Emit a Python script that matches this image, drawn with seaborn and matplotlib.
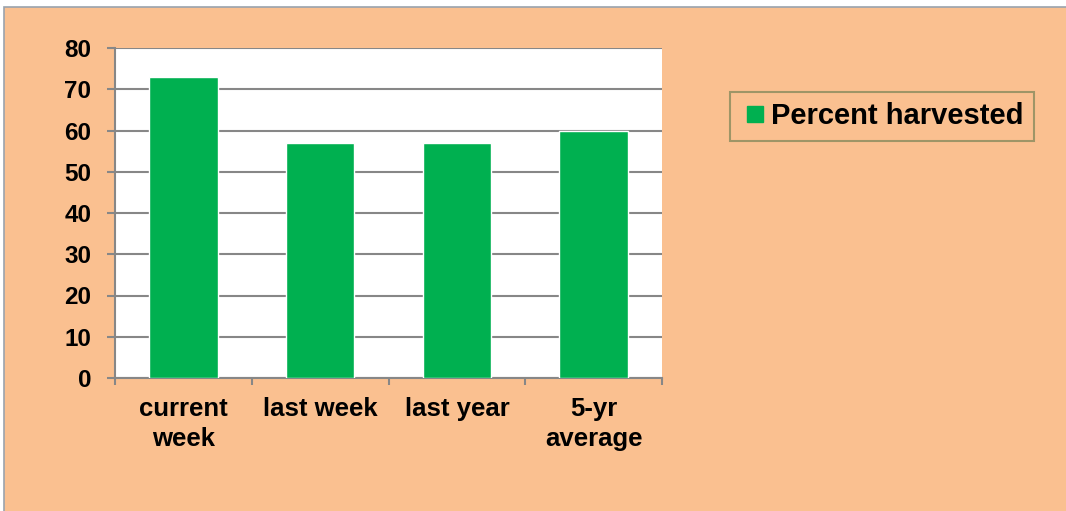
import matplotlib
matplotlib.use("Agg")
import matplotlib.pyplot as plt
import matplotlib.patches as mpatches
from matplotlib.lines import Line2D
import seaborn as sns
import pandas as pd

# data
categories = ["current\nweek", "last week", "last year", "5-yr\naverage"]
percent_harvested = [73, 57, 57, 60]
yticks = [0, 10, 20, 30, 40, 50, 60, 70, 80]
series_name = "Percent harvested"

bg = "#FAC090"
green = "#00B050"
gridcol = "#878787"

sns.set_style("white")
plt.rcParams['font.family'] = ['Liberation Sans', 'DejaVu Sans']
plt.rcParams['font.weight'] = 'bold'
plt.rcParams['text.color'] = 'black'

fig = plt.figure(figsize=(10.66, 5.11), dpi=100, facecolor="white")
W, H = 1066, 511

# orange chart area panel with thin border
panel = mpatches.Rectangle((4 / W, -0.05), 1.2, 1 - 7 / H + 0.05,
                           transform=fig.transFigure, facecolor=bg,
                           edgecolor="#9AA3AD", linewidth=1.2, zorder=-5)
fig.patches.append(panel)

ax = fig.add_axes([115 / W, 1 - 378 / H, 547 / W, 330 / H])
ax.set_zorder(2)
ax.set_facecolor("white")

df = pd.DataFrame({"category": categories, "value": percent_harvested})
sns.barplot(data=df, x="category", y="value", color=green, width=0.5,
            saturation=1, ax=ax, zorder=3)

ax.set_ylim(0, 80)
ax.set_xlim(-0.5, 3.5)
ax.set_yticks(yticks)
ax.yaxis.grid(True, color=gridcol, linewidth=1.5, zorder=0)
ax.set_axisbelow(True)
ax.set_xlabel("")
ax.set_ylabel("")

for side in ["top", "right"]:
    ax.spines[side].set_visible(False)
for side in ["left", "bottom"]:
    ax.spines[side].set_color(gridcol)
    ax.spines[side].set_linewidth(1.5)

ax.tick_params(axis="y", which="major", length=6, width=1.5, color=gridcol,
               pad=11, left=True, labelcolor="black", labelsize=17.5)
ax.tick_params(axis="x", which="major", length=0, pad=14, labelcolor="black",
               labelsize=18.5)
ax.set_xticks([-0.5, 0.5, 1.5, 2.5, 3.5], minor=True)
ax.tick_params(axis="x", which="minor", length=5, width=1.5, color=gridcol,
               bottom=True)
for lab in ax.get_xticklabels():
    lab.set_fontweight("bold")
    lab.set_linespacing(1.3)
for lab in ax.get_yticklabels():
    lab.set_fontweight("bold")

handle = Line2D([], [], linestyle="none", marker="s", markersize=11,
                markerfacecolor=green, markeredgecolor=green)
leg = ax.legend(handles=[handle], labels=[series_name], loc="upper left",
                bbox_to_anchor=(730 / W, 1 - 92 / H),
                bbox_transform=fig.transFigure, frameon=True, fancybox=False,
                prop={"size": 21, "weight": "bold"}, handlelength=1.0,
                handletextpad=0.05, borderpad=0.36, borderaxespad=0)
leg.get_frame().set_facecolor(bg)
leg.get_frame().set_edgecolor("#9E9567")
leg.get_frame().set_linewidth(1.5)
leg.get_frame().set_alpha(1)
for t in leg.get_texts():
    t.set_color("black")

fig.savefig("out.png", dpi=100, facecolor=fig.get_facecolor())
